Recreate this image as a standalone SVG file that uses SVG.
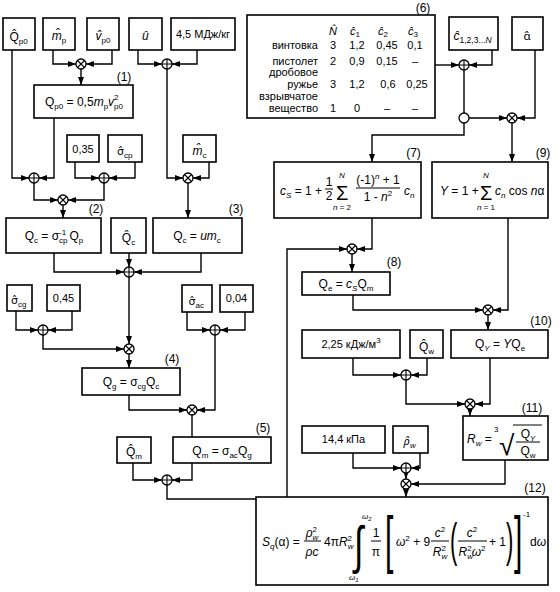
<svg xmlns="http://www.w3.org/2000/svg" width="560" height="592" viewBox="0 0 560 592">
<style>
text{font-family:"Liberation Sans",Arial,sans-serif;font-size:12px;fill:#000}
.s{font-size:8px}
.i{font-style:italic}
.sm{font-size:11px}
.m{text-anchor:middle}
.e{text-anchor:end}
.g{font-family:"Noto Sans","DejaVu Sans",sans-serif;font-size:11.5px}
.d{font-family:"DejaVu Sans",sans-serif;font-size:11px}
.b{fill:#fff;stroke:#000;stroke-width:1.6}
.c{fill:none;stroke:#000;stroke-width:1.4;marker-end:url(#ah)}
.cn{fill:none;stroke:#000;stroke-width:1.4}
.fl{stroke:#000;stroke-width:1}
</style>
<defs>
<marker id="ah" viewBox="0 0 8 6" refX="8" refY="3" markerWidth="8" markerHeight="6" markerUnits="userSpaceOnUse" orient="auto"><path d="M0,0L8,3L0,6z"/></marker>
<g id="plus"><circle r="5" fill="#fff" stroke="#000" stroke-width="1.3"/><path d="M-5,0H5M0,-5V5" stroke="#000" stroke-width="1.1"/></g>
<g id="times"><circle r="5" fill="#fff" stroke="#000" stroke-width="1.3"/><path d="M-3.5,-3.5L3.5,3.5M-3.5,3.5L3.5,-3.5" stroke="#000" stroke-width="1.1"/></g>
</defs>
<rect width="560" height="592" fill="#fff"/>

<g id="connectors">
<path class="c" d="M53,50V64H76"/>
<path class="c" d="M112,50V64H86"/>
<path class="c" d="M81,69V85"/>
<path class="c" d="M138,50V64H162"/>
<path class="c" d="M197,50V64H172"/>
<path class="c" d="M167,69V178H183"/>
<path class="c" d="M209,162V178H193"/>
<path class="c" d="M188,183V218"/>
<path class="c" d="M12,50V178H29"/>
<path class="c" d="M54,118V178H39"/>
<path class="c" d="M75,162V178H99"/>
<path class="c" d="M135,162V178H109"/>
<path class="c" d="M34,183V200H58"/>
<path class="c" d="M104,183V200H68"/>
<path class="c" d="M63,205V218"/>
<path class="c" d="M129,253V267"/>
<path class="c" d="M54,253V272H124"/>
<path class="c" d="M201,253V272H134"/>
<path class="c" d="M129,277V344"/>
<path class="c" d="M16,311V330H38"/>
<path class="c" d="M72,311V330H48"/>
<path class="c" d="M43,335V349H124"/>
<path class="c" d="M129,354V368"/>
<path class="c" d="M187,312V330H210"/>
<path class="c" d="M245,312V330H220"/>
<path class="c" d="M215,335V410H197"/>
<path class="c" d="M129,395V410H187"/>
<path class="cn" d="M192,415V437"/>
<path class="c" d="M133,463V480H162"/>
<path class="c" d="M192,463V480H172"/>
<path class="c" d="M167,485V499H287V249H347"/>
<path class="c" d="M435,65H459"/>
<path class="c" d="M492,50V65H469"/>
<path class="cn" d="M464,70V113"/>
<path class="c" d="M469,118H507"/>
<path class="c" d="M535,50V118H517"/>
<path class="c" d="M464,123V135H372V162"/>
<path class="c" d="M512,123V162"/>
<path class="c" d="M372,218V249H357"/>
<path class="c" d="M352,254V272"/>
<path class="c" d="M353,295V310H483"/>
<path class="c" d="M508,218V310H493"/>
<path class="c" d="M488,315V330"/>
<path class="c" d="M353,358V375H401"/>
<path class="c" d="M427,358V375H411"/>
<path class="c" d="M406,380V404H465"/>
<path class="c" d="M490,358V404H475"/>
<path class="c" d="M470,409V416"/>
<path class="c" d="M353,453V468H401"/>
<path class="c" d="M420,453V468H411"/>
<path class="c" d="M406,473V479"/>
<path class="c" d="M505,460V484H411"/>
<path class="c" d="M406,489V497"/>
</g>

<g id="junctions">
<use id="j1" href="#times" x="81" y="64"/>
<use id="j2" href="#plus" x="167" y="64"/>
<use id="j3" href="#times" x="188" y="178"/>
<use id="j4" href="#plus" x="34" y="178"/>
<use id="j5" href="#plus" x="104" y="178"/>
<use id="j6" href="#times" x="63" y="200"/>
<use id="j7" href="#plus" x="129" y="272"/>
<use id="j8" href="#plus" x="43" y="330"/>
<use id="j9" href="#times" x="129" y="349"/>
<use id="j10" href="#plus" x="215" y="330"/>
<use id="j11" href="#times" x="192" y="410"/>
<use id="j12" href="#plus" x="167" y="480"/>
<use id="j13" href="#times" x="352" y="249"/>
<use id="j14" href="#plus" x="464" y="65"/>
<circle id="branch" cx="464" cy="118" r="5" fill="#fff" stroke="#000" stroke-width="1.3"/>
<use id="j15" href="#times" x="512" y="118"/>
<use id="j16" href="#times" x="488" y="310"/>
<use id="j17" href="#plus" x="406" y="375"/>
<use id="j18" href="#times" x="470" y="404"/>
<use id="j19" href="#plus" x="406" y="468"/>
<use id="j20" href="#times" x="406" y="484"/>
</g>

<g id="n-Qp0hat"><rect class="b" x="3" y="18" width="32" height="32"/><text x="9.5" y="41">Q&#x302;<tspan class="s" dy="3">p0</tspan></text></g>
<g id="n-mphat"><rect class="b" x="43" y="18" width="32" height="32"/><text x="51.7" y="40"><tspan class="i">m&#x302;</tspan><tspan class="s" dy="3">p</tspan></text></g>
<g id="n-vp0hat"><rect class="b" x="87" y="18" width="32" height="32"/><text x="95.5" y="40"><tspan class="i">v&#x302;</tspan><tspan class="s" dy="3">p0</tspan></text></g>
<g id="n-uhat"><rect class="b" x="129" y="18" width="33" height="32"/><text class="i" x="142" y="40">u&#x302;</text></g>
<g id="n-45"><rect class="b" x="171" y="18" width="64" height="32"/><text class="m sm" x="203" y="38">4,5 МДж/кг</text></g>

<g id="n1"><rect class="b" x="34" y="85" width="99" height="33"/><text class="m" x="124" y="81">(1)</text>
<text class="m" x="84" y="106">Q<tspan class="s" dy="3">p0</tspan><tspan dy="-3">  =  0,5</tspan><tspan class="i">m</tspan><tspan class="s" dy="3">p</tspan><tspan class="i" dy="-3">v</tspan><tspan class="s" dy="3">p0</tspan><tspan class="s" dx="-8.9" dy="-9">2</tspan></text></g>

<g id="n-035"><rect class="b" x="67" y="135" width="32" height="27"/><text class="m sm" x="83" y="153">0,35</text></g>
<g id="n-scphat"><rect class="b" x="108" y="135" width="34" height="27"/><text x="117" y="155"><tspan class="d">σ&#x302;</tspan><tspan class="s" dy="3">cp</tspan></text></g>
<g id="n-mchat"><rect class="b" x="183" y="135" width="33" height="27"/><text x="192.5" y="155"><tspan class="i">m&#x302;</tspan><tspan class="s" dy="3">c</tspan></text></g>

<g id="n2"><rect class="b" x="6" y="218" width="95" height="35"/><text class="m" x="96" y="213">(2)</text>
<text class="m" x="54" y="240">Q<tspan class="s" dy="3">c</tspan><tspan dy="-3"> = σ</tspan><tspan class="s" dy="3">cp</tspan><tspan class="s" dx="-8.5" dy="-8">-1</tspan><tspan dy="5"> Q</tspan><tspan class="s" dy="3">p</tspan></text></g>
<g id="n-Qchat"><rect class="b" x="111" y="218" width="35" height="35"/><text x="121.8" y="242">Q&#x302;<tspan class="s" dy="3">c</tspan></text></g>
<g id="n3"><rect class="b" x="153" y="218" width="89" height="35"/><text class="m" x="236" y="213">(3)</text>
<text class="m" x="197" y="240">Q<tspan class="s" dy="3">c</tspan><tspan dy="-3"> = </tspan><tspan class="i">um</tspan><tspan class="s" dy="3">c</tspan></text></g>

<g id="n-scghat"><rect class="b" x="7" y="285" width="25" height="26"/><text x="11" y="304"><tspan class="d">σ&#x302;</tspan><tspan class="s" dy="3">cg</tspan></text></g>
<g id="n-045"><rect class="b" x="47" y="285" width="33" height="26"/><text class="m sm" x="63.5" y="302">0,45</text></g>
<g id="n-sachat"><rect class="b" x="182" y="285" width="30" height="27"/><text x="188.5" y="305"><tspan class="d">σ&#x302;</tspan><tspan class="s" dy="3">ac</tspan></text></g>
<g id="n-004"><rect class="b" x="220" y="285" width="33" height="27"/><text class="m sm" x="236.5" y="302">0,04</text></g>

<g id="n4"><rect class="b" x="82" y="368" width="98" height="27"/><text class="m" x="172" y="363">(4)</text>
<text class="m" x="131" y="386">Q<tspan class="s" dy="3">g</tspan><tspan dy="-3">  =  σ</tspan><tspan class="s" dy="3">cg</tspan><tspan dy="-3">Q</tspan><tspan class="s" dy="3">c</tspan></text></g>
<g id="n5"><rect class="b" x="173" y="437" width="98" height="26"/><text class="m" x="263" y="432">(5)</text>
<text class="m" x="222" y="455">Q<tspan class="s" dy="3">m</tspan><tspan dy="-3">  =  σ</tspan><tspan class="s" dy="3">ac</tspan><tspan dy="-3">Q</tspan><tspan class="s" dy="3">g</tspan></text></g>
<g id="n-Qmhat"><rect class="b" x="117" y="437" width="34" height="26"/><text x="126" y="456">Q&#x302;<tspan class="s" dy="3">m</tspan></text></g>

<g id="n6"><rect class="b" x="247" y="15" width="188" height="103"/><text class="m" x="423" y="12">(6)</text>
<text class="sm i" x="329" y="35">N&#x302;</text>
<text class="sm" x="350" y="35"><tspan class="i">c&#x302;</tspan><tspan class="s" dy="2">1</tspan></text>
<text class="sm" x="378" y="35"><tspan class="i">c&#x302;</tspan><tspan class="s" dy="2">2</tspan></text>
<text class="sm" x="408" y="35"><tspan class="i">c&#x302;</tspan><tspan class="s" dy="2">3</tspan></text>
<text class="e sm" x="318" y="49">винтовка</text>
<text class="m sm" x="333" y="49">3</text><text class="m sm" x="357" y="49">1,2</text><text class="m sm" x="387" y="49">0,45</text><text class="m sm" x="415" y="49">0,1</text>
<text class="e sm" x="318" y="64.5">пистолет</text>
<text class="m sm" x="333" y="64.5">2</text><text class="m sm" x="357" y="64.5">0,9</text><text class="m sm" x="387" y="64.5">0,15</text><text class="m sm" x="415" y="64.5">–</text>
<text class="e sm" x="318" y="76">дробовое<tspan x="318" dy="12">ружье</tspan></text>
<text class="m sm" x="333" y="88">3</text><text class="m sm" x="357" y="88">1,2</text><text class="m sm" x="388" y="88">0,6</text><text class="m sm" x="417" y="88">0,25</text>
<text class="e sm" x="318" y="99.5">взрывчатое<tspan x="318" dy="12">вещество</tspan></text>
<text class="m sm" x="333" y="111.5">1</text><text class="m sm" x="357" y="111.5">0</text><text class="m sm" x="387" y="111.5">–</text><text class="m sm" x="415" y="111.5">–</text>
</g>

<g id="n-chat"><rect class="b" x="449" y="17" width="49" height="33"/><text x="453.5" y="40"><tspan class="i">c&#x302;</tspan><tspan style="font-size:8.5px" dy="3">1,2,3...</tspan><tspan class="i" style="font-size:8.5px">N</tspan></text></g>
<g id="n-alphat"><rect class="b" x="512" y="17" width="31" height="33"/><text x="523.5" y="40"><tspan class="g">α&#x302;</tspan></text></g>

<g id="n7"><rect class="b" x="274" y="162" width="147" height="56"/><text class="m" x="413.5" y="157">(7)</text>
<text x="280" y="195"><tspan class="i">c</tspan><tspan class="s i" dy="3">S</tspan><tspan dy="-3"> = 1 +</tspan></text>
<text class="m" x="329" y="186">1</text><line class="fl" x1="325" y1="189" x2="333" y2="189"/><text class="m" x="329" y="200">2</text>
<text x="336" y="200" style="font-size:20px">Σ</text>
<text class="m s i" x="342" y="178">N</text>
<text class="m s" x="342" y="210"><tspan class="i">n</tspan> = 2</text>
<text class="m" x="378" y="184">(-1)<tspan class="s i" dy="-5">n</tspan><tspan dy="5"> + 1</tspan></text>
<line class="fl" x1="356" y1="188" x2="400" y2="188"/>
<text class="m" x="378" y="201">1 - <tspan class="i">n</tspan><tspan class="s" dy="-5">2</tspan></text>
<text x="404" y="195"><tspan class="i">c</tspan><tspan class="s i" dy="3">n</tspan></text>
</g>

<g id="n9"><rect class="b" x="432" y="162" width="116" height="56"/><text class="m" x="543" y="157">(9)</text>
<text x="440" y="195"><tspan class="i">Y</tspan> = 1 +</text>
<text x="480" y="200" style="font-size:20px">Σ</text>
<text class="m s i" x="486" y="178">N</text>
<text class="m s" x="486" y="210"><tspan class="i">n</tspan> = 1</text>
<text x="495" y="195"><tspan class="i">c</tspan><tspan class="s i" dy="3">n</tspan><tspan dy="-3"> cos </tspan><tspan class="i">n</tspan>α</text>
</g>

<g id="n8"><rect class="b" x="302" y="272" width="88" height="23"/><text class="m" x="394" y="266">(8)</text>
<text class="m" x="346" y="288">Q<tspan class="s" dy="3">e</tspan><tspan dy="-3"> = </tspan><tspan class="i">c</tspan><tspan class="s i" dy="3">S</tspan><tspan dy="-3">Q</tspan><tspan class="s" dy="3">m</tspan></text></g>

<g id="n10"><rect class="b" x="451" y="330" width="97" height="28"/><text class="m" x="541" y="325">(10)</text>
<text class="m" x="500" y="348">Q<tspan class="s i" dy="3">Y</tspan><tspan dy="-3"> = </tspan><tspan class="i">Y</tspan>Q<tspan class="s" dy="3">e</tspan></text></g>
<g id="n-225"><rect class="b" x="302" y="330" width="98" height="28"/><text class="m sm" x="351" y="348">2,25 кДж/м<tspan class="s" dy="-5">3</tspan></text></g>
<g id="n-Qwhat"><rect class="b" x="410" y="330" width="33" height="28"/><text x="419" y="351">Q&#x302;<tspan class="s" dy="3">w</tspan></text></g>

<g id="n11"><rect class="b" x="463" y="416" width="85" height="44"/><text class="m" x="532" y="412">(11)</text>
<text x="467" y="443"><tspan class="i">R</tspan><tspan class="s i" dy="3">w</tspan><tspan dy="-3"> =</tspan></text>
<text class="s" x="494" y="432">3</text>
<text x="499" y="455" style="font-size:28px">√</text>
<line class="fl" x1="513" y1="425" x2="542" y2="425"/>
<text class="m" x="528" y="438">Q<tspan class="s i" dy="3">Y</tspan></text>
<line class="fl" x1="516" y1="442" x2="540" y2="442"/>
<text class="m" x="528" y="455">Q<tspan class="s" dy="3">w</tspan></text>
</g>

<g id="n-144"><rect class="b" x="302" y="426" width="83" height="27"/><text class="m sm" x="343.5" y="443">14,4 кПа</text></g>
<g id="n-rhowhat"><rect class="b" x="393" y="426" width="35" height="27"/><text x="403.5" y="445"><tspan class="g i">ρ&#x302;</tspan><tspan class="s i" dy="3">w</tspan></text></g>

<g id="n12"><rect class="b" x="256" y="497" width="292" height="88"/><text class="m" x="535" y="492">(12)</text>
<text x="262" y="546"><tspan class="i">S</tspan><tspan class="s i" dy="3">q</tspan><tspan dy="-3">(α) =</tspan></text>
<text class="m" x="312" y="537"><tspan class="i">ρ</tspan><tspan class="s i" dy="3">w</tspan><tspan class="s" dx="-5.8" dy="-8">2</tspan></text>
<line class="fl" x1="304" y1="541" x2="321" y2="541"/>
<text class="m i" x="312" y="556">ρc</text>
<text x="324" y="546">4π<tspan class="i">R</tspan><tspan class="s i" dy="3">w</tspan><tspan class="s" dx="-5.8" dy="-8">2</tspan></text>
<text transform="translate(354,563) scale(1.3,2)" style="font-size:26px">∫</text>
<text class="s i" x="362" y="519">ω<tspan dy="2" style="font-size:6px">2</tspan></text>
<text class="s i" x="349" y="580">ω<tspan dy="2" style="font-size:6px">1</tspan></text>
<text class="m" x="376" y="537">1</text>
<line class="fl" x1="371" y1="541" x2="381" y2="541"/>
<text class="m" x="376" y="556">π</text>
<text transform="translate(385,561) scale(1,2.1)" style="font-size:30px">[</text>
<text x="396" y="546"><tspan class="i">ω</tspan><tspan class="s" dy="-5">2</tspan><tspan dy="5"> + 9</tspan></text>
<text class="m" x="440" y="537"><tspan class="i">c</tspan><tspan class="s" dy="-5">2</tspan></text>
<line class="fl" x1="431" y1="541" x2="449" y2="541"/>
<text class="m" x="440" y="556"><tspan class="i">R</tspan><tspan class="s i" dy="3">w</tspan><tspan class="s" dx="-5.8" dy="-8">2</tspan></text>
<text transform="translate(450,556) scale(1,2.1)" style="font-size:22px">(</text>
<text class="m" x="472" y="537"><tspan class="i">c</tspan><tspan class="s" dy="-5">2</tspan></text>
<line class="fl" x1="458" y1="541" x2="487" y2="541"/>
<text class="m" x="472" y="556"><tspan class="i">R</tspan><tspan class="s i" dy="3">w</tspan><tspan class="s" dx="-5.8" dy="-8">2</tspan><tspan class="i" dy="5">ω</tspan><tspan class="s" dy="-5">2</tspan></text>
<text x="489" y="546">+ 1</text>
<text transform="translate(506,556) scale(1,2.1)" style="font-size:22px">)</text>
<text transform="translate(514,561) scale(1,2.1)" style="font-size:30px">]</text>
<text class="s" x="523" y="517">-1</text>
<text x="530" y="546">d<tspan class="i">ω</tspan></text>
</g>
</svg>
